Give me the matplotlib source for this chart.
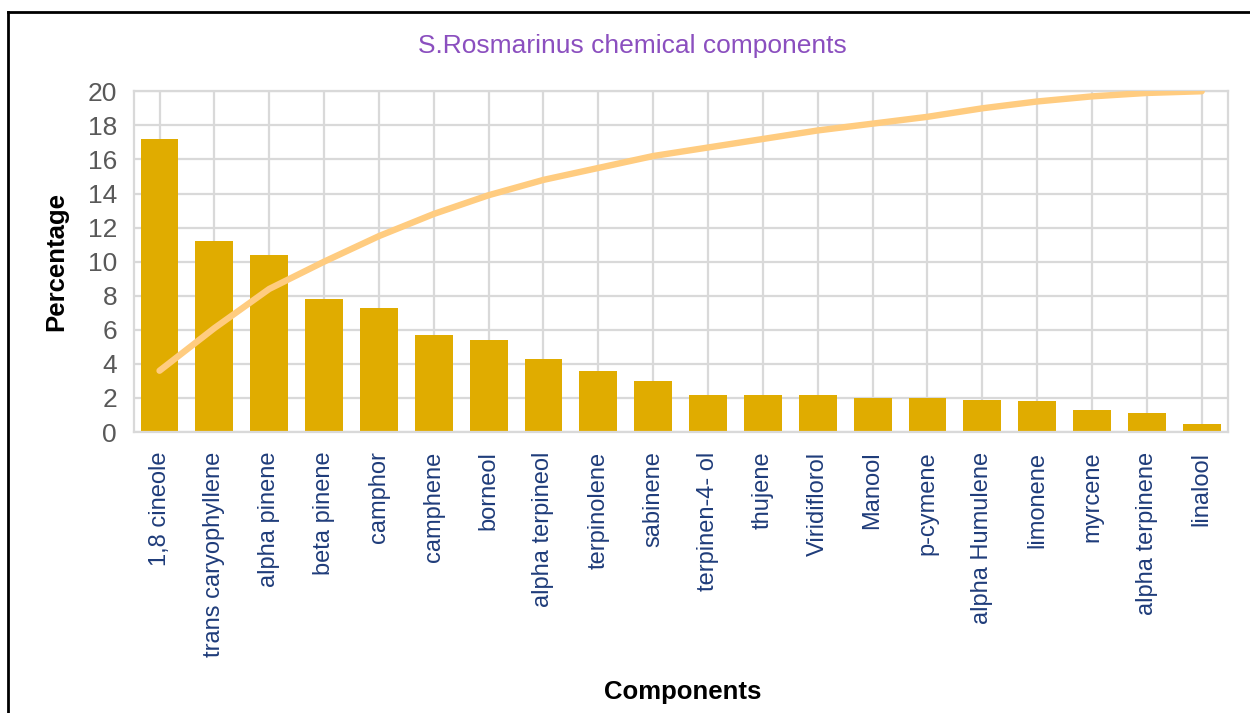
import matplotlib
matplotlib.use("Agg")
import matplotlib.pyplot as plt
from matplotlib.lines import Line2D
import numpy as np

plt.rcParams['font.family'] = ['Liberation Sans', 'DejaVu Sans']

# datos
components = ["1,8 cineole", "trans caryophyllene", "alpha pinene", "beta pinene",
              "camphor", "camphene", "borneol", "alpha terpineol", "terpinolene",
              "sabinene", "terpinen-4- ol", "thujene", "Viridiflorol", "Manool",
              "p-cymene", "alpha Humulene", "limonene", "myrcene",
              "alpha terpinene", "linalool"]
percentage = [17.2, 11.2, 10.4, 7.8, 7.3, 5.7, 5.4, 4.3, 3.6, 3.0,
              2.2, 2.2, 2.2, 2.0, 2.0, 1.9, 1.8, 1.3, 1.1, 0.5]
cumulative = [3.6, 6.1, 8.4, 10.0, 11.5, 12.8, 13.9, 14.8, 15.5, 16.2,
              16.7, 17.2, 17.7, 18.1, 18.5, 19.0, 19.4, 19.7, 19.9, 20.0]
yticks = list(range(0, 21, 2))

C_BAR = "#e0ac00"
C_LINE = "#ffcc80"
C_GRID = "#d9d9d9"

fig = plt.figure(figsize=(12.5, 7.13), dpi=100)
fig.subplots_adjust(left=0.107, right=0.982, top=0.872, bottom=0.394)
ax = fig.add_subplot(111)

x = np.arange(len(components))
ax.bar(x, percentage, width=0.69, color=C_BAR, zorder=2)
ax.plot(x, cumulative, color=C_LINE, lw=4.6, solid_capstyle="round", zorder=3)

ax.set_xlim(-0.47, len(components) - 0.53)
ax.set_ylim(0, 20)
ax.set_yticks(yticks)
ax.set_xticks(x)
ax.set_xticklabels(components, rotation=90, va="top", ha="center",
                   fontsize=17, color="#1f3c7a")
ax.tick_params(axis="x", length=0, pad=14)
ax.tick_params(axis="y", length=0, pad=12, labelsize=19, labelcolor="#595959")

ax.grid(True, color=C_GRID, lw=1.6, zorder=0)
ax.set_axisbelow(True)
for sp in ax.spines.values():
    sp.set_color(C_GRID)
    sp.set_linewidth(1.6)

# el titulo no esta centrado sobre el area de trazado sino sobre la figura
fig.text(0.506, 0.935, "S.Rosmarinus chemical components", fontsize=19,
         color="#8b4fbf", ha="center", va="center")
ax.set_ylabel("Percentage", fontsize=18.5, fontweight="bold", labelpad=14)
fig.text(0.546, 0.03, "Components", fontsize=18.5, fontweight="bold",
         ha="center", va="center")

# marco exterior (solo arriba e izquierda visibles)
fig.add_artist(Line2D([0.0064, 1.0], [0.983, 0.983], color="black", lw=2,
                      transform=fig.transFigure))
fig.add_artist(Line2D([0.0064, 0.0064], [0.983, 0.0], color="black", lw=2,
                      transform=fig.transFigure))

fig.savefig("out.png", dpi=100)
